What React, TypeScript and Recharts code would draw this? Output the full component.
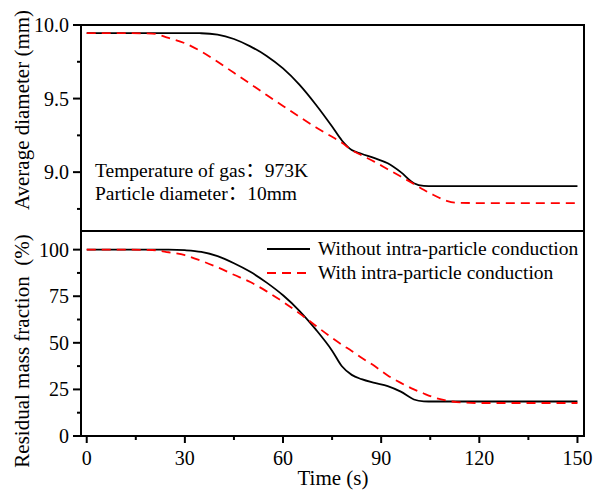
import React from 'react';
import { LineChart, Line, XAxis, YAxis, Legend, ReferenceArea } from 'recharts';

const FONT = '"Liberation Serif", "Times New Roman", "Noto Sans CJK SC", serif';

// time (s)
const time = [0, 10, 20, 25, 30, 35, 40, 45, 50, 55, 60, 65, 70, 75, 78, 81, 84, 88, 92, 96, 100, 103, 106, 110, 113, 120, 130, 140, 150];

// average diameter (mm)
const diameterWithout = [9.945, 9.945, 9.945, 9.945, 9.945, 9.944, 9.935, 9.905, 9.855, 9.79, 9.705, 9.595, 9.46, 9.31, 9.215, 9.15, 9.125, 9.095, 9.06, 9.0, 8.925, 8.907, 8.905, 8.905, 8.905, 8.905, 8.905, 8.905, 8.905];
const diameterWith = [9.945, 9.945, 9.942, 9.912, 9.876, 9.82, 9.75, 9.675, 9.6, 9.524, 9.45, 9.376, 9.305, 9.24, 9.2, 9.15, 9.115, 9.07, 9.02, 8.97, 8.92, 8.88, 8.845, 8.805, 8.792, 8.79, 8.79, 8.79, 8.79];

// residual mass fraction (%)
const massWithout = [100, 100, 100, 100, 99.7, 98.8, 96.5, 92.7, 88.1, 82.3, 75.5, 67.2, 57.2, 45.8, 37.4, 32.8, 30.5, 28.5, 26.8, 23.8, 19.6, 18.6, 18.5, 18.5, 18.5, 18.5, 18.5, 18.5, 18.5];
const massWith = [100, 100, 99.8, 98.6, 97, 94, 90.5, 86.5, 82.6, 77.6, 72, 65.8, 59.2, 52.6, 49, 45.6, 42, 37.5, 32.5, 28.5, 25, 22.8, 20.8, 19, 18.2, 17.7, 17.7, 17.7, 17.7];

const timeTicks = [0, 15, 30, 45, 60, 75, 90, 105, 120, 135, 150];
const diameterTicks = [8.75, 9, 9.25, 9.5, 9.75, 10];
const massTicks = [0, 12.5, 25, 37.5, 50, 62.5, 75, 87.5, 100];

const SERIES_WITHOUT = 'Without intra-particle conduction';
const SERIES_WITH = 'With intra-particle conduction';
const legendOrder = [SERIES_WITHOUT, SERIES_WITH];

const data = time.map((t, i) => ({
  t,
  dWithout: diameterWithout[i],
  dWith: diameterWith[i],
  mWithout: massWithout[i],
  mWith: massWith[i],
}));

const X_DOMAIN: [number, number] = [-1.75, 152];
const D_DOMAIN: [number, number] = [8.6, 10];
const M_DOMAIN: [number, number] = [0, 110];

// plot boxes in page coordinates (from chart margins / axis sizes), used for the tick marks
const BOTTOM_TOP = 221;
const PLOT_L = 81;
const PLOT_W = 594 - 81 - 10;
const TOP_T = 25;
const TOP_H = 241 - 25 - 10;
const BOT_T = BOTTOM_TOP + 10;
const BOT_H = 275 - 10 - 60;

const toX = (v: number) => PLOT_L + ((v - X_DOMAIN[0]) / (X_DOMAIN[1] - X_DOMAIN[0])) * PLOT_W;
const toD = (v: number) => TOP_T + ((D_DOMAIN[1] - v) / (D_DOMAIN[1] - D_DOMAIN[0])) * TOP_H;
const toM = (v: number) => BOT_T + ((M_DOMAIN[1] - v) / (M_DOMAIN[1] - M_DOMAIN[0])) * BOT_H;

const isMajor = (v: number, step: number) => Math.abs(v / step - Math.round(v / step)) < 1e-6;

function makeYTick(step: number, digits: number) {
  return (props: any) => {
    const x = Number(props.x);
    const y = Number(props.y);
    const v = Number(props.payload.value);
    if (!isMajor(v, step)) return <g />;
    return (
      <text x={x - 12} y={y} dy={7} textAnchor="end" fontSize={20} fontFamily={FONT} fill="#000">
        {v.toFixed(digits)}
      </text>
    );
  };
}

const diameterTick = makeYTick(0.5, 1);
const massTick = makeYTick(25, 0);

const timeTick = (props: any) => {
  const x = Number(props.x);
  const y = Number(props.y);
  const v = Number(props.payload.value);
  if (!isMajor(v, 30)) return <g />;
  return (
    <text x={x} y={y + 29} textAnchor="middle" fontSize={20} fontFamily={FONT} fill="#000">
      {v}
    </text>
  );
};

// outward tick marks, drawn in an overlay svg above both charts
const TickMarks = () => (
  <svg width={594} height={496} style={{ position: 'absolute', left: 0, top: 0, pointerEvents: 'none' }}>
    {diameterTicks.map((v) => (
      <line key={`d${v}`} x1={PLOT_L - (isMajor(v, 0.5) ? 8 : 4)} x2={PLOT_L} y1={toD(v)} y2={toD(v)} stroke="#000" strokeWidth={2} />
    ))}
    {massTicks.map((v) => (
      <line key={`m${v}`} x1={PLOT_L - (isMajor(v, 25) ? 8 : 4)} x2={PLOT_L} y1={toM(v)} y2={toM(v)} stroke="#000" strokeWidth={2} />
    ))}
    {timeTicks.map((v) => (
      <line key={`t${v}`} x1={toX(v)} x2={toX(v)} y1={BOT_T + BOT_H} y2={BOT_T + BOT_H + (isMajor(v, 30) ? 7 : 4)} stroke="#000" strokeWidth={2} />
    ))}
  </svg>
);

const renderLegend = (props: any) => {
  const items = [...(props.payload || [])].sort(
    (a: any, b: any) => legendOrder.indexOf(a.value) - legendOrder.indexOf(b.value)
  );
  return (
    <div style={{ fontFamily: FONT }}>
      {items.map((entry: any) => (
        <div key={entry.value} style={{ display: 'flex', alignItems: 'center', height: 24 }}>
          <svg width={43} height={24}>
            <line
              x1={0}
              x2={43}
              y1={12}
              y2={12}
              stroke={entry.color}
              strokeWidth={2}
              strokeDasharray={entry.payload && entry.payload.strokeDasharray}
            />
          </svg>
          <span style={{ marginLeft: 8, fontSize: 19.5, lineHeight: '24px', color: '#000', whiteSpace: 'nowrap' }}>
            {entry.value}
          </span>
        </div>
      ))}
    </div>
  );
};

export default function App() {
  return (
    <div style={{ position: 'absolute', left: 0, top: 0, width: 594, height: 496, background: '#fff' }}>
      <div style={{ position: 'absolute', left: 0, top: 0 }}>
        <LineChart width={594} height={241} data={data} margin={{ top: 25, right: 10, bottom: 10, left: 0 }}>
          <XAxis dataKey="t" type="number" domain={X_DOMAIN} allowDataOverflow height={0} ticks={[]} tick={false} tickLine={false} axisLine={false} />
          <YAxis
            type="number"
            domain={D_DOMAIN}
            allowDataOverflow
            ticks={diameterTicks}
            interval={0}
            width={81}
            tickSize={0}
            tickMargin={0}
            tickLine={false}
            tick={diameterTick}
            axisLine={false}
          />
          <ReferenceArea
            x1={X_DOMAIN[0]}
            x2={X_DOMAIN[1]}
            y1={D_DOMAIN[0]}
            y2={D_DOMAIN[1]}
            fill="none"
            fillOpacity={0}
            stroke="#000"
            strokeWidth={2}
            strokeOpacity={1}
            ifOverflow="visible"
          />
          <Line type="monotone" dataKey="dWithout" name={SERIES_WITHOUT} stroke="#000" strokeWidth={1.8} dot={false} isAnimationActive={false} />
          <Line type="monotone" dataKey="dWith" name={SERIES_WITH} stroke="#ff0000" strokeWidth={1.8} strokeDasharray="9 6" dot={false} isAnimationActive={false} />
          <text x={95} y={177} fontSize={19.5} fontFamily={FONT} fill="#000">Temperature of gas：973K</text>
          <text x={95} y={200} fontSize={19.5} fontFamily={FONT} fill="#000">Particle diameter：10mm</text>
          <text x={29} y={110} transform="rotate(-90, 29, 110)" textAnchor="middle" fontSize={21} fontFamily={FONT} fill="#000">
            Average diameter (mm)
          </text>
        </LineChart>
      </div>
      <div style={{ position: 'absolute', left: 0, top: BOTTOM_TOP }}>
        <LineChart width={594} height={275} data={data} margin={{ top: 10, right: 10, bottom: 0, left: 0 }}>
          <XAxis
            dataKey="t"
            type="number"
            domain={X_DOMAIN}
            allowDataOverflow
            ticks={timeTicks}
            interval={0}
            height={60}
            tickSize={0}
            tickMargin={0}
            tickLine={false}
            tick={timeTick}
            axisLine={false}
          />
          <YAxis
            type="number"
            domain={M_DOMAIN}
            allowDataOverflow
            ticks={massTicks}
            interval={0}
            width={81}
            tickSize={0}
            tickMargin={0}
            tickLine={false}
            tick={massTick}
            axisLine={false}
          />
          <ReferenceArea
            x1={X_DOMAIN[0]}
            x2={X_DOMAIN[1]}
            y1={M_DOMAIN[0]}
            y2={M_DOMAIN[1]}
            fill="none"
            fillOpacity={0}
            stroke="#000"
            strokeWidth={2}
            strokeOpacity={1}
            ifOverflow="visible"
          />
          <Legend
            layout="horizontal"
            align="center"
            verticalAlign="middle"
            content={renderLegend}
            wrapperStyle={{ position: 'absolute', left: 267, top: 16, width: 320 }}
          />
          <Line type="monotone" dataKey="mWithout" name={SERIES_WITHOUT} stroke="#000" strokeWidth={1.8} dot={false} isAnimationActive={false} />
          <Line type="monotone" dataKey="mWith" name={SERIES_WITH} stroke="#ff0000" strokeWidth={1.8} strokeDasharray="9 6" dot={false} isAnimationActive={false} />
          <text x={333} y={264} textAnchor="middle" fontSize={21} fontFamily={FONT} fill="#000">Time (s)</text>
          <text x={29} y={130} transform="rotate(-90, 29, 130)" textAnchor="middle" fontSize={21} fontFamily={FONT} fill="#000">
            Residual mass fraction{'\u00a0\u00a0'}(%)
          </text>
        </LineChart>
      </div>
      <TickMarks />
    </div>
  );
}
